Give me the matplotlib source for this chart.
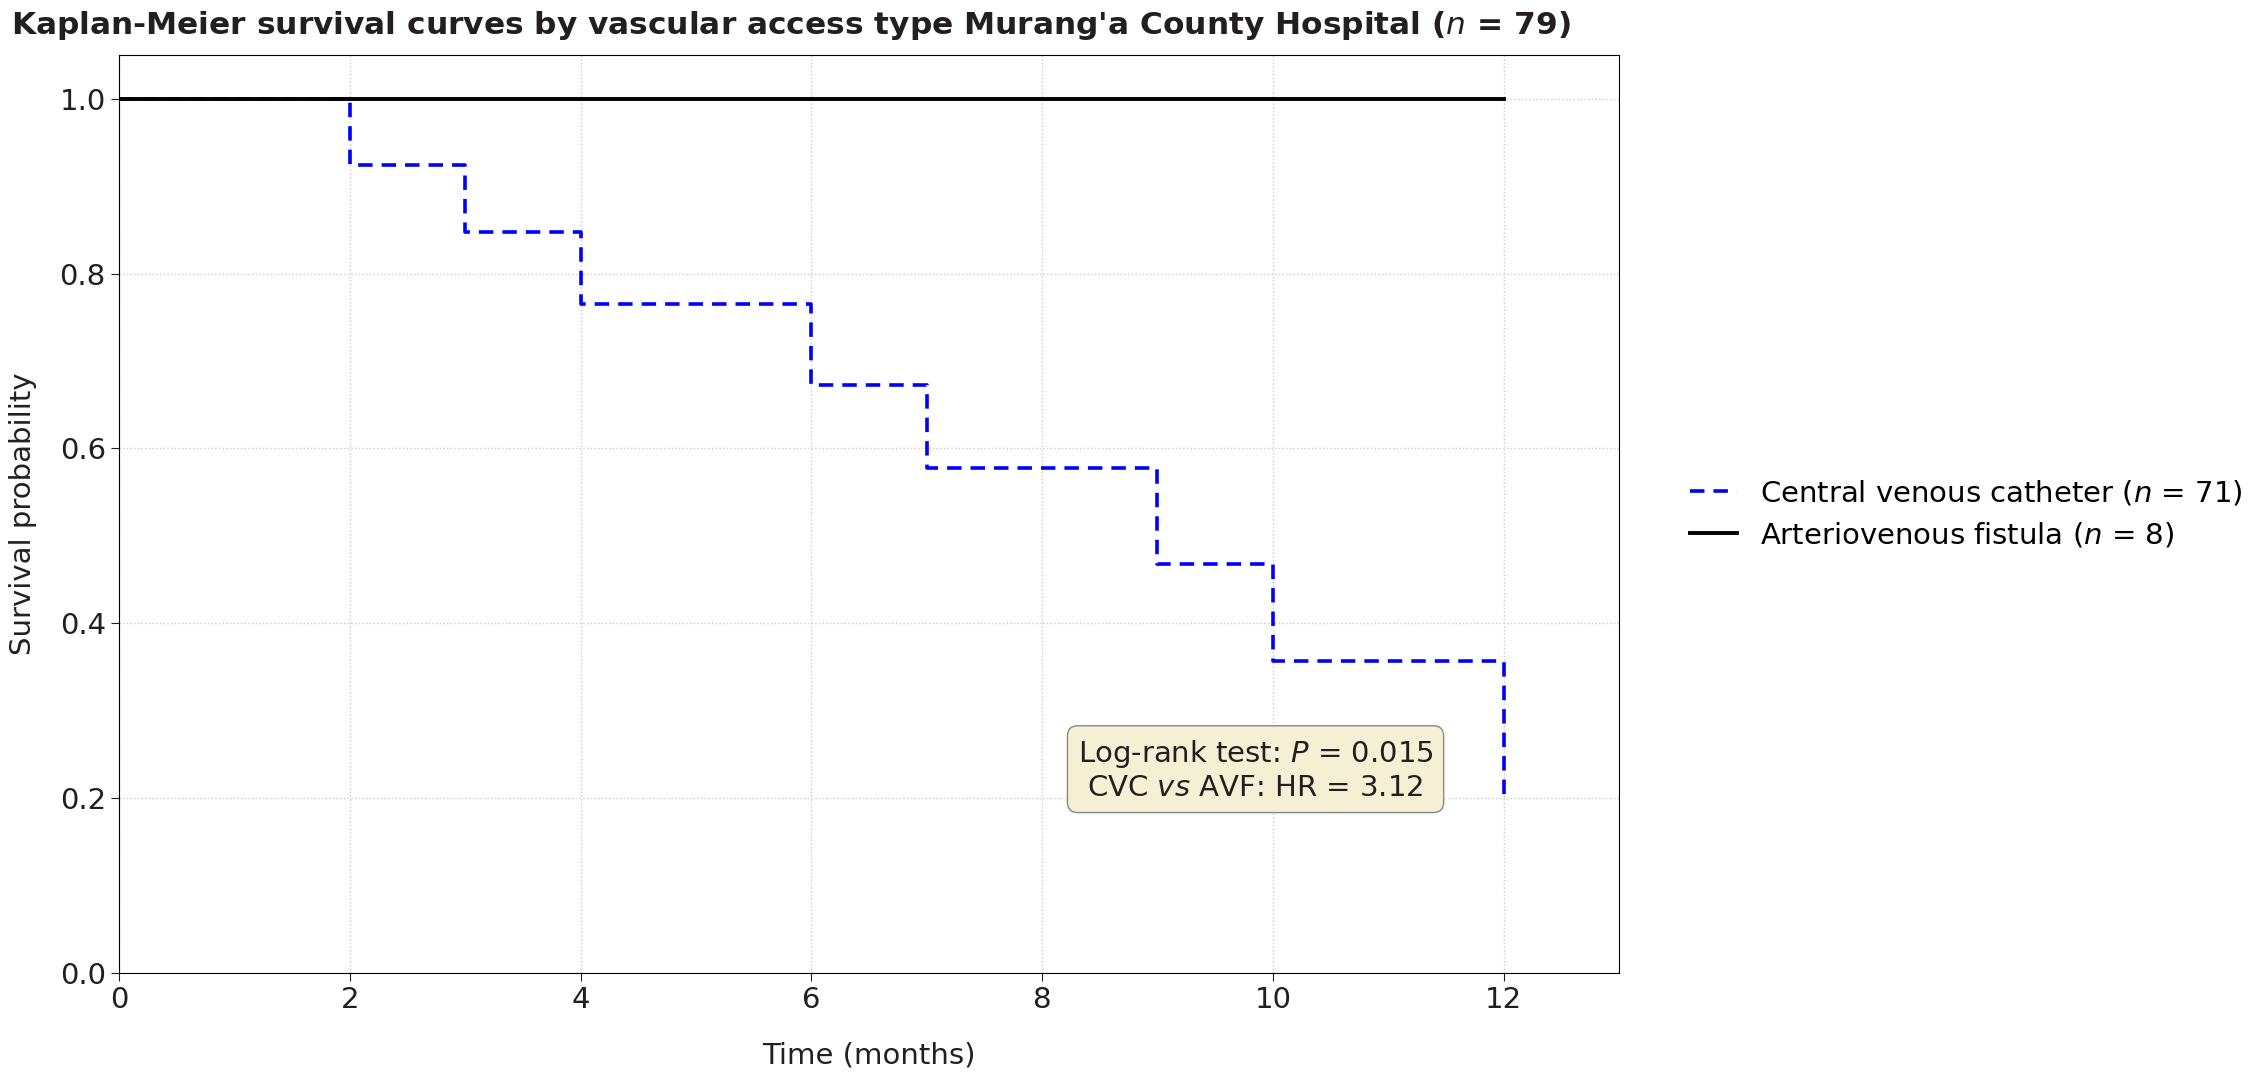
import matplotlib.pyplot as plt

# данные: время (мес.) и вероятность выживания
cvc_time = [0, 2, 3, 4, 6, 7, 9, 10, 12]
cvc_surv = [1.0, 0.924, 0.848, 0.765, 0.672, 0.578, 0.468, 0.357, 0.196]
avf_time = [0, 12]
avf_surv = [1.0, 1.0]

x_ticks = [0, 2, 4, 6, 8, 10, 12]
y_ticks = [0.0, 0.2, 0.4, 0.6, 0.8, 1.0]

plt.rcParams['font.family'] = ['DejaVu Sans']
fs = 21

fig = plt.figure(figsize=(22.56, 10.84), dpi=100)
ax = fig.add_axes([119 / 2256, 1 - 973 / 1084, 1500 / 2256, 918 / 1084])

# кривые (чёрная поверх синей)
ax.step(cvc_time, cvc_surv, where='post', color='blue', linestyle='--', linewidth=2.6,
        dashes=(4, 2.5), zorder=2, label='Central venous catheter ($\\it{n}$ = 71)')
ax.step(avf_time, avf_surv, where='post', color='black', linewidth=2.8, zorder=3,
        label='Arteriovenous fistula ($\\it{n}$ = 8)')

ax.set_xlim(0, 13)
ax.set_ylim(0, 1.05)
ax.set_xticks(x_ticks)
ax.set_yticks(y_ticks)
ax.set_yticklabels([f'{v:.1f}' for v in y_ticks])
ax.tick_params(labelsize=fs, length=6, colors='#231f20')
ax.grid(True, linestyle=':', color='#cccccc', linewidth=1)
ax.set_xlabel('Time (months)', fontsize=fs, labelpad=20, color='#231f20')
ax.set_ylabel('Survival probability', fontsize=fs, labelpad=16, color='#231f20')

ax.legend(loc='center left', bbox_to_anchor=(1.03, 0.5), frameon=False, fontsize=fs,
          handlelength=1.6, labelspacing=0.45)

# текст с результатами теста
ax.text(9.85, 0.232, 'Log-rank test: $\\it{P}$ = 0.015\nCVC $\\it{vs}$ AVF: HR = 3.12',
        ha='center', va='center', fontsize=fs, color='#231f20',
        bbox=dict(boxstyle='round,pad=0.35', facecolor='#f5efd3', edgecolor='#888888'))

fig.text(11 / 2256, 1 - 25 / 1084, "Kaplan-Meier survival curves by vascular access type Murang'a County Hospital ($\\bf{\\it{n}}$ = 79)",
         fontsize=22.5, fontweight='bold', ha='left', va='center', color='#231f20')

plt.savefig('out.png', dpi=100)
